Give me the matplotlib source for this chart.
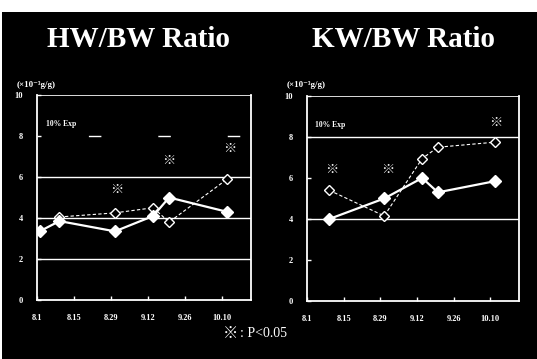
import matplotlib.pyplot as plt
from matplotlib.patches import Rectangle

# data (x = days after 8/1)
tick_days = [0, 14, 28, 42, 56, 70]
tick_labels = ["8.1", "8.15", "8.29", "9.12", "9.26", "10.10"]
y_ticks = [0, 2, 4, 6, 8, 10]

hw_ctrl_days = [1, 8.5, 29.5, 44, 50, 72]
hw_ctrl = [3.35, 3.85, 3.35, 4.1, 5.0, 4.3]
hw_exp_days = [8.5, 29.5, 44, 50, 72]
hw_exp = [4.05, 4.25, 4.5, 3.8, 5.9]
hw_sig_days = [30, 50, 73]
hw_sig = [5.4, 6.8, 7.4]

kw_days = [8.5, 29.5, 44, 50, 72]
kw_ctrl = [4.0, 5.0, 6.0, 5.3, 5.85]
kw_exp = [5.4, 4.15, 6.95, 7.5, 7.75]
kw_sig_days = [9.5, 31, 72]
kw_sig = [6.4, 6.4, 8.7]

SERIF = ["Liberation Serif", "DejaVu Serif"]
MARK = ["Noto Sans CJK JP", "DejaVu Sans"]

fig = plt.figure(figsize=(5.37, 3.59), dpi=100, facecolor="white")
fig.patches.append(Rectangle((0.004, 0), 0.996, 0.967, transform=fig.transFigure,
                             facecolor="black", edgecolor="none", zorder=-1))


def panel(rect, title, cx, ctrl_x, ctrl_y, exp_x, exp_y, sig_x, sig_y, grid, dash8):
    ax = fig.add_axes(rect)
    ax.set_facecolor("black")
    for s in ax.spines.values():
        s.set_color("white")
        s.set_linewidth(1.3)
    ax.spines["top"].set_linewidth(0.6)
    ax.set_xlim(0, 81)
    ax.set_ylim(0, 10)
    for g in grid:
        ax.axhline(g, color="white", lw=1.0, zorder=1)
    if dash8:
        ax.axhline(8, color="white", lw=1.0, ls=(13, (9, 41)), zorder=1)
    ax.plot(exp_x, exp_y, color="white", lw=0.8, ls=(0, (3, 2)), marker="D",
            ms=5, mfc="black", mec="white", mew=1.0, zorder=3)
    ax.plot(ctrl_x, ctrl_y, color="white", lw=1.6, marker="D", ms=6.5,
            mfc="white", mec="white", zorder=4)
    for x, y in zip(sig_x, sig_y):
        ax.text(x, y, "※", color="white", fontsize=9.5, family=MARK,
                ha="center", va="center")
    ax.text(0.04, 0.85, "10% Exp", transform=ax.transAxes, color="white",
            fontsize=5.5, family=SERIF, weight="bold")
    ax.set_xticks(tick_days)
    ax.set_xticklabels(tick_labels)
    ax.set_yticks(y_ticks)
    ax.tick_params(colors="white", direction="in", length=3, width=1.0,
                   labelsize=6, pad=10)
    ax.tick_params(axis="y", pad=10)
    for lab in ax.get_xticklabels() + ax.get_yticklabels():
        lab.set_family(SERIF)
        lab.set_weight("bold")
    fig.text(cx, 0.89, title, color="white", fontsize=21, family=SERIF,
             weight="bold", ha="center", va="center")
    fig.text(rect[0] - 0.038, 0.763, "(×10⁻³g/g)", color="white", fontsize=6.5,
             family=SERIF, weight="bold", ha="left", va="center")
    return ax


panel([0.0689, 0.1643, 0.3985, 0.5711], "HW/BW Ratio", 0.257,
      hw_ctrl_days, hw_ctrl, hw_exp_days, hw_exp, hw_sig_days, hw_sig,
      [2, 4, 6], True)
panel([0.5717, 0.1616, 0.3948, 0.5710], "KW/BW Ratio", 0.752,
      kw_days, kw_ctrl, kw_days, kw_exp, kw_sig_days, kw_sig,
      [4, 8], False)

fig.text(0.415, 0.072, "※", color="white", fontsize=11, family=MARK,
         ha="left", va="center")
fig.text(0.447, 0.072, ": P<0.05", color="white", fontsize=10, family=SERIF,
         ha="left", va="center")

fig.savefig("out.png", dpi=100, facecolor="white")
